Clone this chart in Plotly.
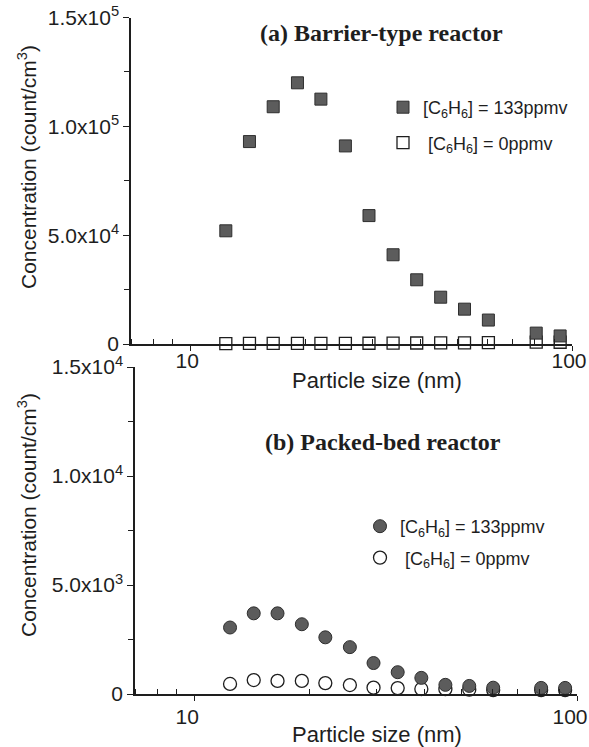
import math
import plotly.graph_objects as go

# ---------------- data ----------------
sizes_nm = [12.4, 14.3, 16.5, 19.1, 22.0, 25.5, 29.4, 34.0, 39.2, 45.3, 52.3, 60.4, 80.6, 93.1]

barrier_133 = [52000, 93000, 109000, 120000, 112500, 91000, 59000, 41000, 29500, 21500, 16000, 11000, 5000, 3700]
barrier_0 = [200, 250, 300, 300, 300, 300, 350, 400, 450, 500, 550, 600, 900, 800]

packed_133 = [3050, 3700, 3700, 3200, 2600, 2150, 1420, 1000, 740, 420, 370, 290, 280, 280]
packed_0 = [460, 640, 600, 600, 500, 410, 290, 270, 230, 220, 200, 180, 180, 180]

x_major = [10, 100]
x_major_text = ["10", "100"]
x_minor = [7, 8, 9, 20, 30, 40, 50, 60, 70, 80, 90]

ya_vals = [0, 50000, 100000, 150000]
ya_text = ["0", "5.0x10<sup>4</sup>", "1.0x10<sup>5</sup>", "1.5x10<sup>5</sup>"]
ya_minor = [25000, 75000, 125000]

yb_vals = [0, 5000, 10000, 15000]
yb_text = ["0", "5.0x10<sup>3</sup>", "1.0x10<sup>4</sup>", "1.5x10<sup>4</sup>"]
yb_minor = [2500, 7500, 12500]

label_133 = "[C<sub>6</sub>H<sub>6</sub>] = 133ppmv"
label_0 = " [C<sub>6</sub>H<sub>6</sub>] = 0ppmv"

# ---------------- style ----------------
W, H = 589, 747
INK = "#1e1e1e"
FILL = "#5c5c5c"
SANS = "Liberation Sans, Arial, sans-serif"
SERIF = "Liberation Serif, Times New Roman, serif"

def px_x(p):
    return p / W

def px_y(p):
    return 1 - p / H

fig = go.Figure()

# top panel (open drawn first so filled sits on top)
fig.add_trace(go.Scatter(
    x=sizes_nm, y=barrier_0, mode="markers", name=label_0,
    marker=dict(symbol="square", size=12, color="white", line=dict(color=INK, width=1.3)),
    xaxis="x", yaxis="y", cliponaxis=False, legend="legend", legendgroup="a0", legendrank=2))
fig.add_trace(go.Scatter(
    x=sizes_nm, y=barrier_133, mode="markers", name=label_133,
    marker=dict(symbol="square", size=12, color=FILL, line=dict(color="#2e2e2e", width=1)),
    xaxis="x", yaxis="y", cliponaxis=False, legend="legend", legendgroup="a1", legendrank=1))

# bottom panel
fig.add_trace(go.Scatter(
    x=sizes_nm, y=packed_0, mode="markers", name=label_0,
    marker=dict(symbol="circle", size=13, color="white", line=dict(color=INK, width=1.3)),
    xaxis="x2", yaxis="y2", cliponaxis=False, legend="legend2", legendgroup="b0", legendrank=2))
fig.add_trace(go.Scatter(
    x=sizes_nm, y=packed_133, mode="markers", name=label_133,
    marker=dict(symbol="circle", size=13, color=FILL, line=dict(color="#2e2e2e", width=1)),
    xaxis="x2", yaxis="y2", cliponaxis=False, legend="legend2", legendgroup="b1", legendrank=1))

tickfont = dict(family=SANS, size=21, color=INK)

def xaxis_cfg(domain, anchor, standoff, shift):
    return dict(
        type="log", range=[math.log10(7), 2], domain=domain, anchor=anchor,
        automargin=False, ticklabeloverflow="allow",
        ticklabelstandoff=standoff, ticklabelshift=shift,
        showline=True, linecolor=INK, linewidth=1.5, showgrid=False, zeroline=False,
        tickmode="array", tickvals=x_major, ticktext=x_major_text,
        ticks="outside", ticklen=5, tickwidth=1.3, tickcolor=INK, tickfont=tickfont,
        minor=dict(tickmode="array", tickvals=x_minor, ticks="inside", ticklen=5,
                   tickwidth=1.2, tickcolor=INK, showgrid=False),
    )

def yaxis_cfg(domain, anchor, vals, text, minor, top):
    return dict(
        range=[0, top], domain=domain, anchor=anchor,
        automargin=False, ticklabeloverflow="allow",
        showline=True, linecolor=INK, linewidth=1.5, showgrid=False, zeroline=False,
        tickmode="array", tickvals=vals, ticktext=text,
        ticks="outside", ticklen=6, tickwidth=1.3, tickcolor=INK, tickfont=tickfont,
        minor=dict(tickmode="array", tickvals=minor, ticks="outside", ticklen=5,
                   tickwidth=1.2, tickcolor=INK, showgrid=False),
    )

legend_common = dict(
    xanchor="left", yanchor="top", bgcolor="rgba(0,0,0,0)", borderwidth=0,
    font=dict(family=SANS, size=18, color=INK), traceorder="grouped",
)

fig.update_layout(
    width=W, height=H,
    margin=dict(l=0, r=0, t=0, b=0, autoexpand=False),
    paper_bgcolor="white", plot_bgcolor="white",
    showlegend=True,
    xaxis=xaxis_cfg([px_x(131), px_x(572)], "y", -8, -3),
    yaxis=yaxis_cfg([px_y(344), px_y(17.5)], "x", ya_vals, ya_text, ya_minor, 150000),
    xaxis2=xaxis_cfg([px_x(135), px_x(577)], "y2", -2, -7),
    yaxis2=yaxis_cfg([px_y(694), px_y(367)], "x2", yb_vals, yb_text, yb_minor, 15000),
    legend=dict(x=px_x(383), y=px_y(89), tracegroupgap=9, **legend_common),
    legend2=dict(x=px_x(360), y=px_y(508), tracegroupgap=5, **legend_common),
)

title_font = dict(family=SERIF, size=24, color=INK)
axis_title_font = dict(family=SANS, size=22, color=INK)
ytitle_font = dict(family=SANS, size=21, color=INK)

annotations = [
    dict(text="<b>(a) Barrier-type reactor</b>", x=px_x(381), y=px_y(33), font=title_font),
    dict(text="<b>(b) Packed-bed reactor</b>", x=px_x(383), y=px_y(442), font=title_font),
    dict(text="Particle size (nm)", x=px_x(377), y=px_y(380), font=axis_title_font),
    dict(text="Particle size (nm)", x=px_x(377), y=px_y(734), font=axis_title_font),
    dict(text="Concentration (count/cm<sup>3</sup>)", x=px_x(27), y=px_y(167),
         textangle=-90, font=ytitle_font),
    dict(text="Concentration (count/cm<sup>3</sup>)", x=px_x(27), y=px_y(515),
         textangle=-90, font=ytitle_font),
]
for a in annotations:
    a.update(xref="paper", yref="paper", xanchor="center", yanchor="middle", showarrow=False)
fig.update_layout(annotations=annotations)

fig.write_html(
    "out.html",
    config={"displayModeBar": False},
    post_script="document.documentElement.style.margin='0';document.body.style.margin='0';"
                "document.body.style.overflow='hidden';",
)
